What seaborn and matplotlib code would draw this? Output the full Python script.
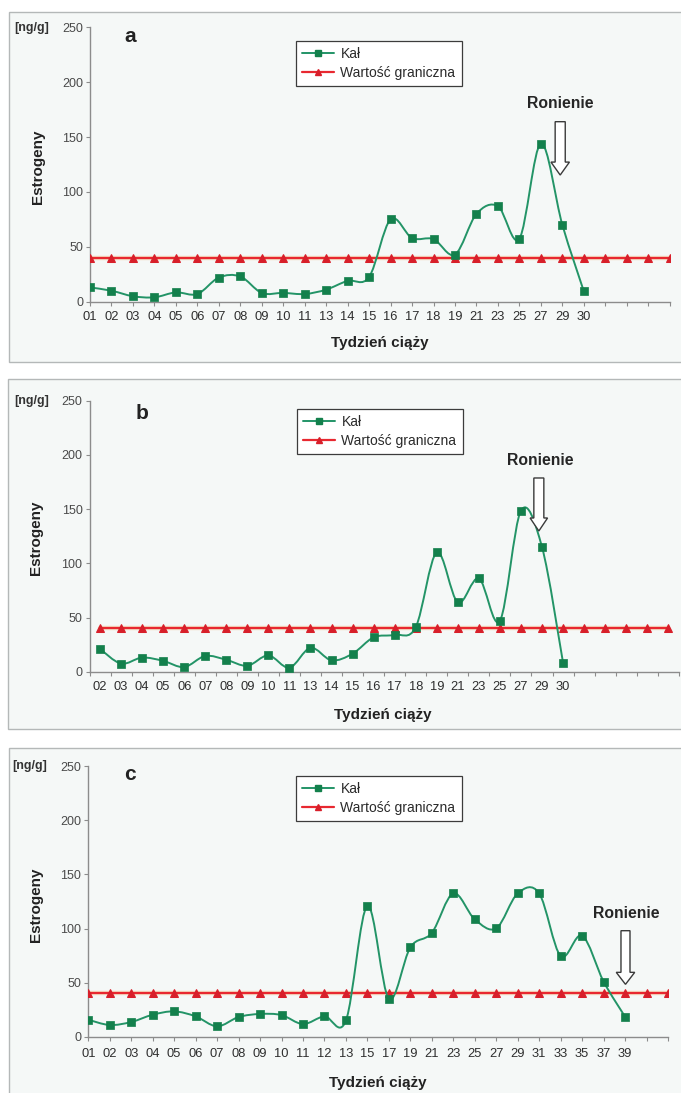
import numpy as np
import matplotlib
matplotlib.use("Agg")
import matplotlib.pyplot as plt
from matplotlib.path import Path
from matplotlib.patches import PathPatch, Rectangle, FancyArrow
from matplotlib.lines import Line2D
import seaborn as sns

# ---------------- data ----------------
weeks_a = ["01", "02", "03", "04", "05", "06", "07", "08", "09", "10", "11", "13",
           "14", "15", "16", "17", "18", "19", "21", "23", "25", "27", "29", "30"]
kal_a = [13, 10, 5, 4, 8.5, 7, 22, 23, 8, 8, 7, 11,
         19, 22.5, 75, 58, 57, 43, 80, 87, 57.5, 144, 70, 9.5]

weeks_b = ["02", "03", "04", "05", "06", "07", "08", "09", "10", "11", "13", "14",
           "15", "16", "17", "18", "19", "21", "23", "25", "27", "29", "30"]
kal_b = [21, 7.5, 13, 10, 4.3, 14.5, 11, 5.5, 15, 3.7, 22, 10.5,
         16.6, 31.7, 34, 41, 110, 64, 86, 47, 148.5, 115, 8.3]

weeks_c = ["01", "02", "03", "04", "05", "06", "07", "08", "09", "10", "11", "12", "13",
           "15", "17", "19", "21", "23", "25", "27", "29", "31", "33", "35", "37", "39"]
kal_c = [15.7, 10.8, 13.6, 20.3, 23.4, 18.8, 9.6, 18.2, 21, 20, 11.7, 18.8, 15,
         121, 35, 82.6, 96, 132.5, 108.5, 100.2, 132.5, 132.5, 74.6, 93.4, 51, 18.5]

threshold_value = 40          # "Wartość graniczna"
n_slots = 28                  # number of category slots on each x axis
series_names = ["Kał", "Wartość graniczna"]
panel_letters = ["a", "b", "c"]

# ---------------- style ----------------
sns.set_theme(style="white")
plt.rcParams["font.family"] = ["Liberation Sans", "DejaVu Sans"]

GREEN_LINE = "#239467"
GREEN_MARK = "#13804c"
RED_LINE = "#e82830"
RED_MARK = "#d81f2a"
AXIS_COL = "#8c8c8c"
TEXT_COL = "#2e2e2e"
PANEL_BG = "#f5f8f7"

W, H = 681, 1093
fig = plt.figure(figsize=(W / 100, H / 100), dpi=100, facecolor="white")


def fx(px):
    return px / W


def fy(py):
    return 1 - py / H


def smooth_path(x, y):
    pts = np.column_stack([x, y]).astype(float)
    n = len(pts)
    verts = [pts[0]]
    codes = [Path.MOVETO]
    for i in range(n - 1):
        p0 = pts[i - 1] if i > 0 else pts[i]
        p1 = pts[i]
        p2 = pts[i + 1]
        p3 = pts[i + 2] if i + 2 < n else pts[i + 1]
        c1 = p1 + (p2 - p0) / 6.0
        c2 = p2 - (p3 - p1) / 6.0
        verts += [c1, c2, p2]
        codes += [Path.CURVE4] * 3
    return Path(verts, codes)


panels = [
    dict(weeks=weeks_a, kal=kal_a, between=False, xpad=4.0,
         frame=(8.5, 11.5, 690, 350), ax=(90, 27.3, 669.7, 301.7),
         letter=(130, 42.5), ylab=(38, 167), xlab=(380, 343),
         legend=(296, 41), arrow=(21.9, 164, 115.4, 11.8, 0.47, 0.86),
         ron=(21.9, 181), unit=(32, 28)),
    dict(weeks=weeks_b, kal=kal_b, between=True, xpad=6.5,
         frame=(8, 379, 690, 349.5), ax=(89.5, 400.7, 678.8, 671.7),
         letter=(142, 419.3), ylab=(36, 538), xlab=(383, 715.5),
         legend=(297, 409), arrow=(20.85, 178.7, 129.8, 12.0, 0.475, 0.83),
         ron=(20.9, 195), unit=(32, 401)),
    dict(weeks=weeks_c, kal=kal_c, between=False, xpad=5.0,
         frame=(8.5, 748.3, 690, 360), ax=(88.3, 766.3, 668, 1036.7),
         letter=(130, 780), ylab=(36, 905), xlab=(378, 1082.5),
         legend=(296, 776), arrow=(25.02, 98, 48.4, 11.1, 0.42, 0.86),
         ron=(25.05, 114), unit=(30, 766.5)),
]

for k, p in enumerate(panels):
    # panel background frame
    fx0, fy0, fw, fh = p["frame"]
    fig.patches.append(Rectangle((fx(fx0), fy(fy0 + fh)), fw / W, fh / H,
                                 transform=fig.transFigure, facecolor=PANEL_BG,
                                 edgecolor="#b4b8b8", linewidth=1.0, zorder=-10))

    x0, y0, x1, y1 = p["ax"]
    ax = fig.add_axes([fx(x0), fy(y1), (x1 - x0) / W, (y1 - y0) / H])
    ax.set_zorder(2)
    ax.set_facecolor("none")
    ax.patch.set_alpha(0)

    pos_all = np.arange(n_slots)
    thr = np.full(n_slots, threshold_value, dtype=float)
    # threshold line with a faint warm halo, as in the scan
    ax.plot(pos_all, thr, color="#f4a860", lw=3.2, alpha=0.35, zorder=2)
    sns.lineplot(x=pos_all, y=thr, ax=ax, color=RED_LINE, lw=1.6,
                 marker="^", markersize=5.2, markerfacecolor=RED_MARK,
                 markeredgecolor=RED_MARK, zorder=3)

    kal = np.asarray(p["kal"], dtype=float)
    pos = np.arange(len(kal))
    ax.add_patch(PathPatch(smooth_path(pos, kal), facecolor="none",
                           edgecolor=GREEN_LINE, lw=1.4, zorder=4))
    sns.scatterplot(x=pos, y=kal, ax=ax, marker="s", s=30, color=GREEN_MARK,
                    edgecolor=GREEN_MARK, linewidth=0.5, zorder=5)

    # axes
    ax.set_ylim(0, 250)
    if p["between"]:
        ax.set_xlim(-0.5, n_slots - 0.5)
    else:
        ax.set_xlim(0, n_slots - 1)
    ax.set_yticks([0, 50, 100, 150, 200, 250])
    ax.set_yticklabels(["0", "50", "100", "150", "200", "250"])
    labels = list(p["weeks"]) + [""] * (n_slots - len(p["weeks"]))
    ax.set_xticks(pos_all)
    ax.set_xticklabels(labels)
    if p["between"]:
        ax.set_xticks(np.arange(-0.5, n_slots, 1.0), minor=True)
        ax.tick_params(axis="x", which="major", length=0, pad=p["xpad"])
        ax.tick_params(axis="x", which="minor", length=3, width=0.8,
                       color=AXIS_COL, direction="out", bottom=True)
    else:
        ax.tick_params(axis="x", which="major", length=3, width=0.8,
                       color=AXIS_COL, direction="out", pad=p["xpad"])
    ax.tick_params(axis="y", length=3, width=0.8, color=AXIS_COL,
                   direction="out", pad=2, left=True)
    ax.tick_params(axis="x", labelsize=9.3, labelcolor=TEXT_COL, bottom=True)
    ax.tick_params(axis="y", labelsize=9.0, labelcolor="#4a4a4a")
    for side in ["top", "right"]:
        ax.spines[side].set_visible(False)
    for side in ["left", "bottom"]:
        ax.spines[side].set_color(AXIS_COL)
        ax.spines[side].set_linewidth(1.0)
    ax.set_xlabel("")
    ax.set_ylabel("")

    # texts
    fig.text(fx(p["unit"][0]), fy(p["unit"][1]), "[ng/g]", fontsize=9,
             fontweight="bold", color="#333333", ha="center", va="center")
    fig.text(fx(p["letter"][0]), fy(p["letter"][1]), panel_letters[k],
             fontsize=15, fontweight="bold", color="#222222",
             ha="center", va="baseline")
    fig.text(fx(p["ylab"][0]), fy(p["ylab"][1]), "Estrogeny", fontsize=11,
             fontweight="bold", rotation=90, color="#222222",
             ha="center", va="center")
    fig.text(fx(p["xlab"][0]), fy(p["xlab"][1]), "Tydzień ciąży", fontsize=11,
             fontweight="bold", color="#222222", ha="center", va="center")

    # abortion arrow
    axc, ytop, ytip, hl, sw, hw = p["arrow"]
    ax.add_patch(FancyArrow(axc, ytop, 0, -(ytop - ytip), width=sw,
                            head_width=hw, head_length=hl,
                            length_includes_head=True, facecolor="white",
                            edgecolor="#3a3a3a", linewidth=1.0, zorder=6,
                            clip_on=False))
    ax.text(p["ron"][0], p["ron"][1], "Ronienie", fontsize=11.3,
            fontweight="bold", color="#262626", ha="center", va="center")

    # legend
    handles = [
        Line2D([], [], color=GREEN_LINE, lw=1.4, marker="s", markersize=5,
               markerfacecolor=GREEN_MARK, markeredgecolor=GREEN_MARK),
        Line2D([], [], color=RED_LINE, lw=1.6, marker="^", markersize=5,
               markerfacecolor=RED_MARK, markeredgecolor=RED_MARK),
    ]
    lx, ly = p["legend"]
    leg = ax.legend(handles, series_names, loc="upper left",
                    bbox_to_anchor=(fx(lx), fy(ly)),
                    bbox_transform=fig.transFigure, frameon=True,
                    fancybox=False, framealpha=1, facecolor="white",
                    edgecolor="#3c3c3c", fontsize=10, handlelength=2.3,
                    handletextpad=0.45, borderpad=0.45, labelspacing=0.32,
                    borderaxespad=0)
    leg.get_frame().set_linewidth(0.9)
    for t in leg.get_texts():
        t.set_color("#2a2a2a")

fig.savefig("out.png", dpi=100, facecolor="white")
